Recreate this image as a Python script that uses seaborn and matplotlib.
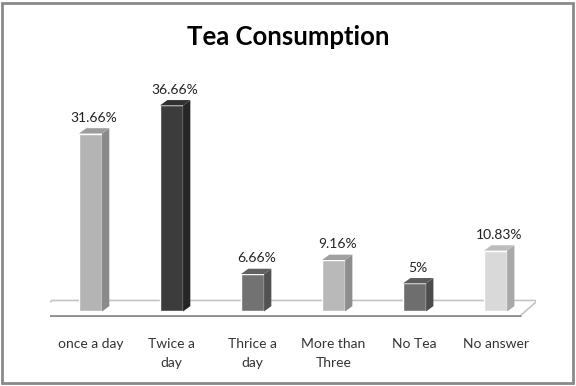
import matplotlib
matplotlib.use('Agg')
import matplotlib.pyplot as plt
import seaborn as sns
from matplotlib.patches import Polygon, Rectangle

# Chart data
categories = ['once a day', 'Twice a\nday', 'Thrice a\nday', 'More than\nThree', 'No Tea', 'No answer']
values = [31.66, 36.66, 6.66, 9.16, 5.0, 10.83]
value_labels = ['31.66%', '36.66%', '6.66%', '9.16%', '5%', '10.83%']
front_colors = ['#b4b4b4', '#3c3c3c', '#727272', '#b9b9b9', '#6e6e6e', '#d9d9d9']
side_colors = ['#8a8a8a', '#262626', '#525252', '#8e8e8e', '#4c4c4c', '#a8a8a8']
top_colors = ['#9c9c9c', '#303030', '#606060', '#a0a0a0', '#5c5c5c', '#bdbdbd']

sns.set_theme(style='white')
plt.rcParams['font.family'] = ['Lato', 'DejaVu Sans']

fig = plt.figure(figsize=(5.76, 3.86), dpi=100)
ax = fig.add_axes([0.0868, 0.1785, 0.844, 0.597])

sns.barplot(x=list(range(len(values))), y=values, hue=list(range(len(values))),
            palette=front_colors, legend=False, width=0.284, ax=ax,
            saturation=1, zorder=3)

ax.set_xlim(-0.5, 5.5)
ax.set_ylim(-1.0, 40)

# floor of the 3D plot
floor = Polygon([(-0.722, -0.8), (5.30, -0.8), (5.52, 1.96), (-0.475, 1.96)],
                closed=True, facecolor='white', edgecolor='#c4c4c4', lw=1.2, zorder=1)
ax.add_patch(floor)
ax.plot([-0.722, 5.30], [-0.8, -0.8], color='#8c8c8c', lw=1.8, zorder=2)

dx, dy = 0.09, 0.95
for i, p in enumerate(ax.patches[:len(values)]):
    x0 = p.get_x()
    x1 = x0 + p.get_width()
    h = p.get_height()
    side = Polygon([(x1, 0), (x1 + dx, dy), (x1 + dx, h + dy), (x1, h)],
                   closed=True, facecolor=side_colors[i], edgecolor='none', zorder=3)
    top = Polygon([(x0, h), (x1, h), (x1 + dx, h + dy), (x0 + dx, h + dy)],
                  closed=True, facecolor=top_colors[i], edgecolor='none', zorder=3)
    ax.add_patch(side)
    ax.add_patch(top)
    ax.text(x0 + (p.get_width() + dx) / 2, h + dy + 0.8, value_labels[i],
            ha='center', va='bottom', fontsize=10, color='#222222')

ax.set_xticks(range(len(categories)))
ax.set_xticklabels(categories, fontsize=10, color='#333333', linespacing=1.75)
ax.tick_params(axis='x', length=0, pad=15)
ax.set_yticks([])
for s in ax.spines.values():
    s.set_visible(False)

fig.text(0.5, 0.883, 'Tea Consumption', ha='center', va='baseline',
         fontsize=18.5, fontweight='bold', color='black')

# outer chart border
fig.patches.append(Rectangle((0.004, 0.008), 0.99, 0.984, transform=fig.transFigure,
                             fill=False, edgecolor='#8a8a8a', lw=2))

fig.savefig('out.png', dpi=100)
